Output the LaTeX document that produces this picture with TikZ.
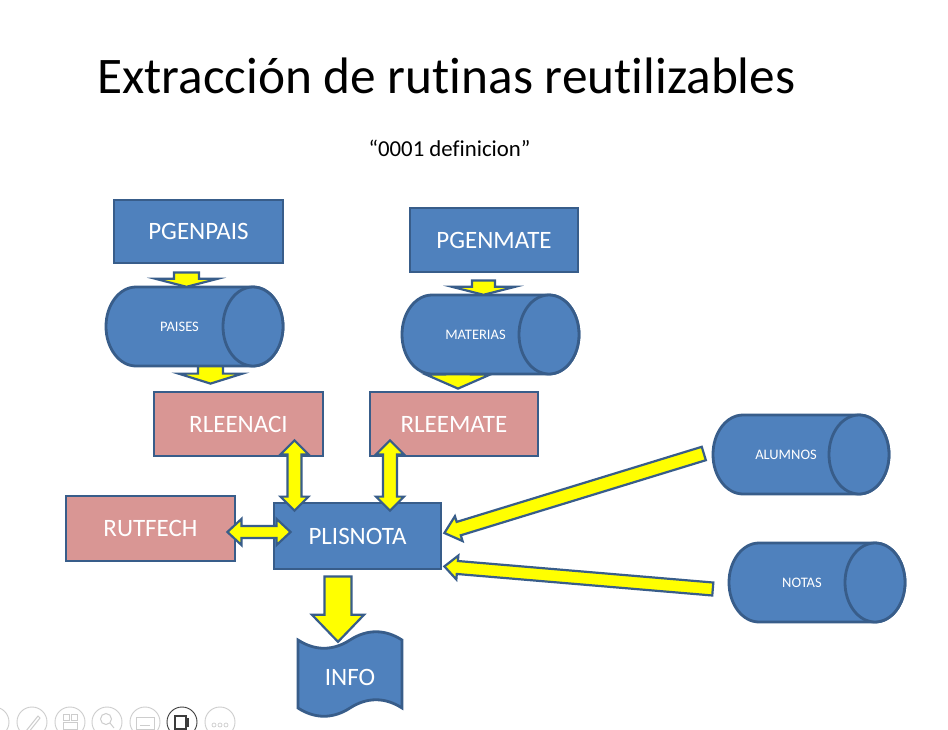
\documentclass[tikz,border=0pt]{standalone}
\usepackage{fontspec}
\setmainfont{Carlito}[Ligatures=CommonOff]
\usetikzlibrary{calc}

\definecolor{boxblue}{RGB}{79,129,189}
\definecolor{edgeblue}{RGB}{56,93,138}
\definecolor{boxpink}{RGB}{217,150,148}
\definecolor{arrowyellow}{RGB}{255,255,0}
\definecolor{toolgray}{RGB}{205,205,205}
\definecolor{tooldark}{RGB}{60,60,60}

\tikzset{
  procbox/.style={draw=edgeblue, line width=2.8pt, fill=boxblue, text=white,
    font=\fontsize{25}{29}\selectfont, inner sep=0pt},
  routinebox/.style={procbox, fill=boxpink},
  dbshape/.style={draw=edgeblue, line width=2.8pt, fill=boxblue},
  dblabel/.style={text=white, font=\fontsize{14.5}{17}\selectfont, inner sep=0pt},
  dbframe/.style={inner sep=0pt, draw=none},
  yarrow/.style={draw=edgeblue, line width=2.2pt, fill=arrowyellow, line join=miter},
  toolring/.style={draw=toolgray, line width=0.9pt},
  toolicon/.style={draw=toolgray, line width=1pt},
}

% block arrow: tail, tip, shaft half width, head half width, head length
\newcommand\blockarrow[5]{%
  \coordinate (baA) at #1;
  \coordinate (baB) at #2;
  \coordinate (baP) at ($(baB)!#5!(baA)$);
  \draw[yarrow] ($(baA)!#3!90:(baB)$) -- ($(baP)!#3!-90:(baA)$)
    -- ($(baP)!#4!-90:(baA)$) -- (baB) -- ($(baP)!#4!90:(baA)$)
    -- ($(baP)!#3!90:(baA)$) -- ($(baA)!#3!-90:(baB)$) -- cycle;
}

% two-headed block arrow: end, end, shaft half width, head half width, head length
\newcommand\dblarrow[5]{%
  \coordinate (daA) at #1;
  \coordinate (daB) at #2;
  \coordinate (daP) at ($(daA)!#5!(daB)$);
  \coordinate (daQ) at ($(daB)!#5!(daA)$);
  \draw[yarrow] (daA) -- ($(daP)!#4!90:(daB)$) -- ($(daP)!#3!90:(daB)$)
    -- ($(daQ)!#3!-90:(daA)$) -- ($(daQ)!#4!-90:(daA)$) -- (daB)
    -- ($(daQ)!#4!90:(daA)$) -- ($(daQ)!#3!90:(daA)$)
    -- ($(daP)!#3!-90:(daB)$) -- ($(daP)!#4!-90:(daB)$) -- cycle;
}

% horizontal storage cylinder: name, left, top, right, bottom, label
\newcommand\dbcyl[6]{%
  \pgfmathsetmacro\dbcRx{30}
  \pgfmathsetmacro\dbcRy{(#5-#3)/2}
  \pgfmathsetmacro\dbcYm{(#3+#5)/2}
  \pgfmathsetmacro\dbcXl{#2+\dbcRx}
  \pgfmathsetmacro\dbcXr{#4-\dbcRx}
  \pgfmathsetmacro\dbcKx{0.5523*\dbcRx}
  \pgfmathsetmacro\dbcKy{0.5523*\dbcRy}
  \node[dbframe, minimum width={#4-#2}, minimum height={#5-#3}] (#1) at ({(#2+#4)/2},\dbcYm) {};
  \draw[dbshape] (\dbcXl,#3) -- (\dbcXr,#3)
    .. controls (\dbcXr+\dbcKx,#3) and (#4,\dbcYm-\dbcKy) .. (#4,\dbcYm)
    .. controls (#4,\dbcYm+\dbcKy) and (\dbcXr+\dbcKx,#5) .. (\dbcXr,#5)
    -- (\dbcXl,#5)
    .. controls (\dbcXl-\dbcKx,#5) and (#2,\dbcYm+\dbcKy) .. (#2,\dbcYm)
    .. controls (#2,\dbcYm-\dbcKy) and (\dbcXl-\dbcKx,#3) .. (\dbcXl,#3) -- cycle;
  \draw[dbshape] (\dbcXr,\dbcYm) ellipse [x radius=\dbcRx, y radius=\dbcRy];
  \node[dblabel] (#1-text) at ({(#2+\dbcXr)/2},\dbcYm) {#6};
}

\begin{document}
\begin{tikzpicture}[x=1pt, y=-1pt]
  \useasboundingbox[fill=white] (0,0) rectangle (948,729);

  % headings
  \node[anchor=base west, inner sep=0pt, font=\fontsize{51.3}{60}\selectfont] (title)
    at (97,93) {Extracción de rutinas reutilizables};
  \node[anchor=base, inner sep=0pt, font=\fontsize{22.8}{26}\selectfont] (subtitle)
    at (449.5,156) {“0001 definicion”};

  % programs and routines
  \node[procbox, minimum width=169, minimum height=63] (pgenpais) at (198.5,231.5) {PGENPAIS};
  \node[procbox, minimum width=168, minimum height=64] (pgenmate) at (494,240) {PGENMATE};
  \node[routinebox, minimum width=169, minimum height=64] (rleenaci) at (238.5,424) {RLEENACI};
  \node[routinebox, minimum width=168, minimum height=64] (rleemate) at (454,424) {RLEEMATE};
  \node[routinebox, minimum width=169, minimum height=65] (rutfech) at (150.5,528.5) {RUTFECH};
  \node[procbox, minimum width=167, minimum height=66] (plisnota) at (357.5,536) {PLISNOTA};

  % data files
  \dbcyl{paises}{106}{287}{283}{366}{PAISES}
  \dbcyl{materias}{402}{295}{579}{374}{MATERIAS}
  \dbcyl{alumnos}{713}{415}{889}{494}{ALUMNOS}
  \dbcyl{notas}{729}{543}{905}{622}{NOTAS}

  % printed report
  \node[dbframe, minimum width=104, minimum height=84] (info) at (350,674) {};
  \draw[dbshape] (298,640) .. controls (315,651) and (333,651) .. (350,640)
    .. controls (367,629) and (385,629) .. (402,640) -- (402,708)
    .. controls (385,697) and (367,697) .. (350,708)
    .. controls (333,719) and (315,719) .. (298,708) -- cycle;
  \node[text=white, inner sep=0pt, font=\fontsize{25}{29}\selectfont] (info-text) at (350,677) {INFO};

  % data flow
  \blockarrow{($(pgenpais.south)+(-12,8)$)}{($(paises.north)+(-8,0)$)}{12.5pt}{31pt}{8pt}
  \blockarrow{($(paises.south)+(16,0)$)}{($(rleenaci.north)+(-28,-7)$)}{12.5pt}{32pt}{10pt}
  \blockarrow{($(pgenmate.south)+(-10.5,7)$)}{($(materias.north)+(-7,0)$)}{11.5pt}{31.5pt}{8pt}
  \blockarrow{($(materias.south)+(-32.5,0)$)}{($(rleemate.north)+(4,-2)$)}{13pt}{32pt}{14pt}
  \dblarrow{($(rleenaci.south)+(56,-17)$)}{($(plisnota.north)+(-63,9)$)}{7pt}{14pt}{14pt}
  \dblarrow{($(rleemate.south)+(-64,-17)$)}{($(plisnota.north)+(32.5,9)$)}{7pt}{14pt}{14pt}
  \dblarrow{($(rutfech.east)+(-9,3.5)$)}{($(plisnota.west)+(18,-4)$)}{6pt}{13pt}{14pt}
  \blockarrow{($(plisnota.south)+(-19.5,6)$)}{($(info.north)+(-12,10)$)}{13.5pt}{26pt}{27pt}
  \blockarrow{($(alumnos.west)+(-9,-1)$)}{($(plisnota.east)+(2,-3)$)}{7pt}{13pt}{15pt}
  \blockarrow{($(notas.west)+(-16,6.5)$)}{($(plisnota.south east)+(2,-4)$)}{6.5pt}{12pt}{13pt}

  % slide show toolbar
  \foreach \cx in {-6,32,70,107,145,220} {
    \draw[toolring] (\cx,722) circle[radius=15];
  }
  \draw[draw=tooldark, line width=0.9pt] (182,722) circle[radius=15];
  \draw[toolicon] (26,731) -- (38,716) -- (40,718) -- (28,733);
  \draw[toolicon] (63,714) rectangle (69,720) (71,714) rectangle (77,720) (63,722) rectangle (77,729);
  \draw[toolicon] (106,719) circle[radius=5.5] (110,723) -- (114,728);
  \draw[toolicon] (136,717) rectangle (154,729) (140,725) -- (150,725);
  \draw[draw=tooldark, line width=1.2pt] (175,716) rectangle (186,729) (188,718) -- (188,727);
  \foreach \dx in {-6,0,6} { \draw[toolicon, line width=0.7pt] (220+\dx,725) circle[radius=2]; }
\end{tikzpicture}
\end{document}
